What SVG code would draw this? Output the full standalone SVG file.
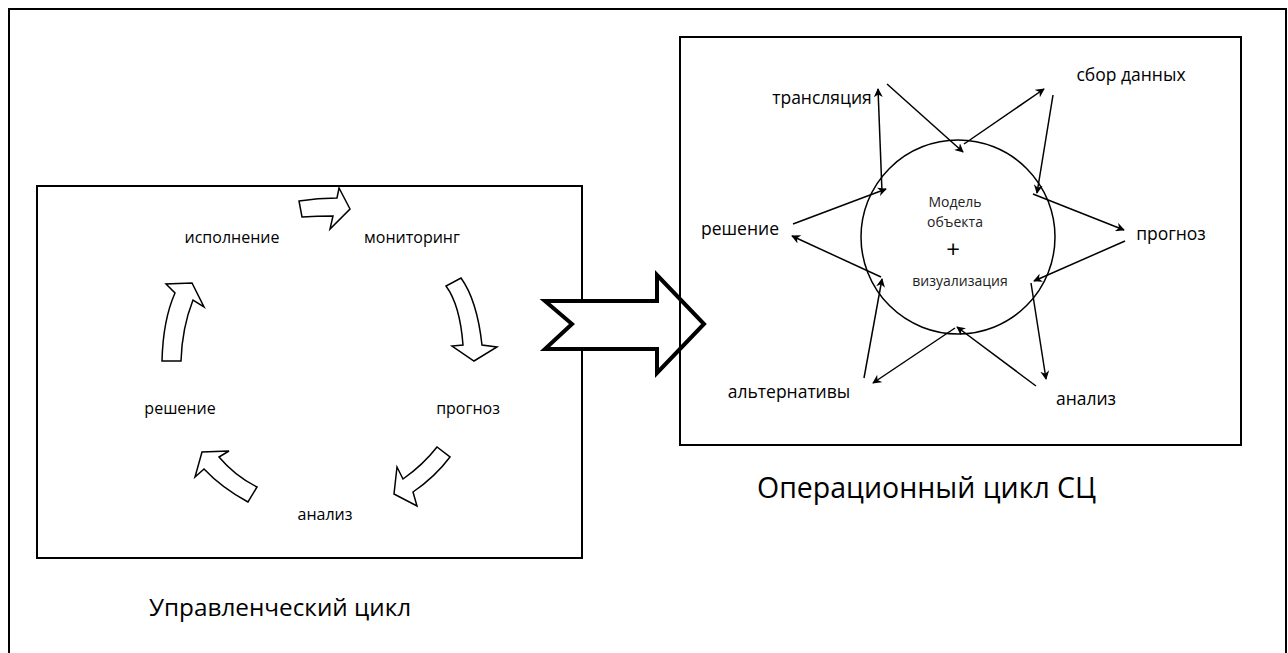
<svg xmlns="http://www.w3.org/2000/svg" width="1288" height="653" viewBox="0 0 1288 653">
<defs>
<style>
.frame{fill:none;stroke:#000;stroke-width:2}
.blk{fill:#fff;stroke:#000;stroke-width:1.5;stroke-linejoin:miter}
.big{fill:#fff;stroke:#000;stroke-width:4;stroke-linejoin:miter}
.lbl{font-family:"Open Sans","DejaVu Sans",sans-serif;font-size:16px;fill:#000;text-anchor:middle}
.lblr{font-family:"Open Sans","DejaVu Sans",sans-serif;font-size:17.5px;fill:#000;text-anchor:middle}
.inner{font-family:"Open Sans","DejaVu Sans",sans-serif;font-size:14px;fill:#222;text-anchor:middle}
.title{font-family:"Open Sans","DejaVu Sans",sans-serif;fill:#000;text-anchor:start}
.con{fill:none;stroke:#000;stroke-width:1.5;marker-end:url(#ah)}
</style>
<marker id="ah" viewBox="0 0 10 10" refX="9" refY="5" markerWidth="9" markerHeight="9" markerUnits="userSpaceOnUse" orient="auto">
<path d="M0,0 L10,5 L0,10 L3,5 Z" fill="#000"/>
</marker>
</defs>
<rect width="1288" height="653" fill="#fff"/>
<rect class="frame" x="9" y="9" width="1277" height="660"/>

<g id="left-cycle">
<rect class="frame" x="37" y="186" width="545" height="372"/>
<g id="n-ispolnenie"><text class="lbl" x="232" y="243">исполнение</text></g>
<g id="n-monitoring"><text class="lbl" x="412" y="243">мониторинг</text></g>
<g id="n-prognoz-l"><text class="lbl" x="468" y="414">прогноз</text></g>
<g id="n-analiz-l"><text class="lbl" x="325" y="520">анализ</text></g>
<g id="n-reshenie-l"><text class="lbl" x="180" y="414">решение</text></g>
<g id="cycle-arrows">
<path class="blk" d="M299,201 Q318,198 337,198 L339,188 L350,209 L330,229 L333,216 Q317,216 302,217 Z"/>
<path class="blk" d="M446,286 Q460,305 463,345 L452,346 L474,361 L497,347 L482,345 Q477,300 461,278 Z"/>
<path class="blk" d="M437,447 Q423,465 403,479 L397,467 L394,494 L417,506 L413,492 Q435,477 450,457 Z"/>
<path class="blk" d="M257,487 Q235,476 219,457 L229,451 L202,452 L195,477 L204,469 Q222,488 248,502 Z"/>
<path class="blk" d="M162,361 Q163,320 175,293 L166,284 L192,283 L204,307 L193,300 Q182,328 181,361 Z"/>
</g>
</g>

<g id="big-arrow">
<path class="big" d="M545,301 L657,301 L657,275 L704,324 L657,373 L657,349 L545,349 L572,324 Z"/>
</g>

<g id="right-cycle">
<rect class="frame" x="680" y="37" width="561" height="408"/>
<g id="n-model">
<circle cx="958" cy="237" r="97" fill="none" stroke="#000" stroke-width="1.5"/>
<text class="inner" x="955" y="207">Модель</text>
<text class="inner" x="955" y="227">объекта</text>
<text x="953" y="258" font-family="'Open Sans','DejaVu Sans',sans-serif" font-size="24" text-anchor="middle">+</text>
<text class="inner" x="960" y="286">визуализация</text>
</g>
<g id="n-translyaciya"><text class="lblr" x="822" y="104">трансляция</text></g>
<g id="n-sbor"><text class="lblr" x="1131" y="81">сбор данных</text></g>
<g id="n-prognoz-r"><text class="lblr" x="1171" y="240">прогноз</text></g>
<g id="n-analiz-r"><text class="lblr" x="1086" y="405">анализ</text></g>
<g id="n-alternativy"><text class="lblr" x="789" y="398">альтернативы</text></g>
<g id="n-reshenie-r"><text class="lblr" x="740" y="235">решение</text></g>
</g>

<g id="connectors">
<line class="con" x1="887" y1="84" x2="963" y2="152"/>
<line class="con" x1="964" y1="144" x2="1044" y2="89"/>
<line class="con" x1="1053" y1="95" x2="1037" y2="193"/>
<line class="con" x1="1033" y1="194" x2="1124" y2="230"/>
<line class="con" x1="1125" y1="241" x2="1034" y2="281"/>
<line class="con" x1="1031" y1="283" x2="1046" y2="379"/>
<line class="con" x1="1036" y1="386" x2="957" y2="327"/>
<line class="con" x1="955" y1="328" x2="873" y2="383"/>
<line class="con" x1="864" y1="378" x2="882" y2="279"/>
<line class="con" x1="881" y1="277" x2="792" y2="236"/>
<line class="con" x1="793" y1="224" x2="886" y2="189"/>
<line class="con" x1="882" y1="192" x2="878" y2="89"/>
</g>

<text class="title" x="149" y="616" font-size="24.3">Управленческий цикл</text>
<text class="title" x="757" y="498" font-size="28.5">Операционный цикл СЦ</text>
</svg>
